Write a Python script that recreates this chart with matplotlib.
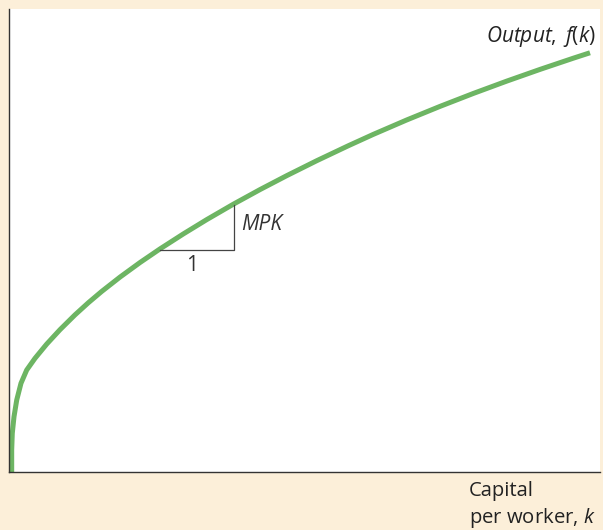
import matplotlib
matplotlib.use('Agg')
import matplotlib.pyplot as plt

# curve (capital per worker, output), arbitrary 0-10 units
k_vals = [0.054, 0.054, 0.064, 0.093, 0.139, 0.211, 0.308, 0.448, 0.646, 0.871,
          1.124, 1.349, 1.576, 1.885, 2.223, 2.561, 2.955, 3.351, 3.800, 4.252,
          4.703, 5.211, 5.745, 6.167, 6.732, 7.295, 7.858, 8.423, 8.986, 9.549,
          9.831]
f_vals = [0.0, 0.475, 0.835, 1.193, 1.553, 1.914, 2.201, 2.453, 2.760, 3.071,
          3.390, 3.651, 3.896, 4.205, 4.519, 4.813, 5.136, 5.445, 5.777, 6.093,
          6.393, 6.716, 7.039, 7.284, 7.595, 7.888, 8.167, 8.433, 8.686, 8.928,
          9.045]

# slope triangle (run of 1, rise of MPK)
tri_k = [2.56, 3.81, 3.81]
tri_y = [4.80, 4.80, 5.76]

bg = '#fcefd9'
green = '#6db563'

plt.rcParams['font.family'] = ['Open Sans', 'DejaVu Sans']
plt.rcParams['mathtext.fontset'] = 'custom'
plt.rcParams['mathtext.rm'] = 'Open Sans'
plt.rcParams['mathtext.it'] = 'Open Sans:italic'

fig = plt.figure(figsize=(6.03, 5.30), dpi=100, facecolor=bg)
ax = fig.add_axes([8.5/603, (530-472)/530, (600-8.5)/603, (472-8.5)/530])
ax.set_facecolor('white')

ax.plot(k_vals, f_vals, color=green, linewidth=3.6, solid_capstyle='butt',
        solid_joinstyle='round')
ax.plot(tri_k, tri_y, color='#444444', linewidth=0.9)

ax.text(3.94, 5.33, 'MPK', fontsize=15, style='italic', color='#333333',
        ha='left', va='center')
ax.text(3.10, 4.45, '1', fontsize=15, color='#333333', ha='center', va='center')
ax.text(9.93, 9.40, r'$Output,$ $f$($k$)', fontsize=15, color='#222222',
        ha='right', va='center')

ax.set_xlim(0, 10)
ax.set_ylim(0, 10)
ax.set_xticks([])
ax.set_yticks([])
for s in ['top', 'right']:
    ax.spines[s].set_visible(False)
for s in ['left', 'bottom']:
    ax.spines[s].set_color('#333333')
    ax.spines[s].set_linewidth(1.0)

fig.text(469/603, 1-491/530, 'Capital', fontsize=14.6, color='#222222',
         ha='left', va='center')
fig.text(469/603, 1-518/530, r'per worker, $k$', fontsize=14.6, color='#222222',
         ha='left', va='center')

fig.savefig('out.png', dpi=100, facecolor=bg)
